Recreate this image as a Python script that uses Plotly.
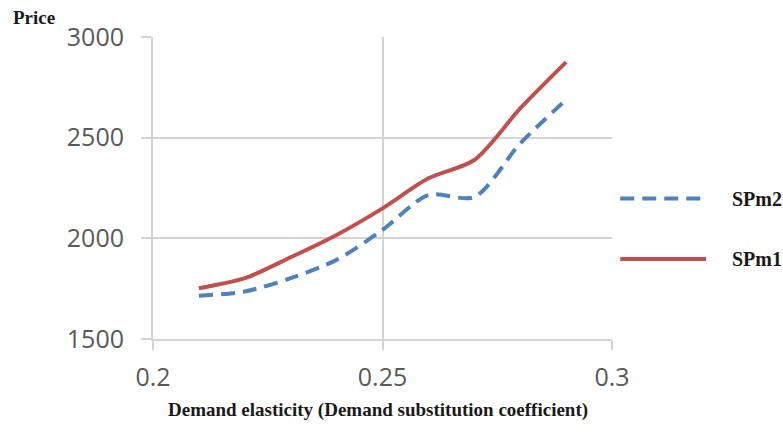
import plotly.graph_objects as go

# Demand elasticity values and the two price series
elasticity = [0.21, 0.22, 0.23, 0.24, 0.25, 0.26, 0.27, 0.28, 0.29]
spm2 = [1715, 1736, 1802, 1893, 2042, 2215, 2205, 2471, 2689]
spm1 = [1752, 1802, 1906, 2017, 2149, 2298, 2389, 2645, 2875]

x_ticks = [0.2, 0.25, 0.3]
x_tick_text = ["0.2", "0.25", "0.3"]
y_ticks = [1500, 2000, 2500, 3000]

BLUE = "#4F81BD"
RED = "#C0504D"
GRID = "#D4D4D4"
TICK_FONT = dict(family="Open Sans", size=25, color="#595959")
SERIF_BOLD = "Liberation Serif"

fig = go.Figure()
fig.add_trace(go.Scatter(
    x=elasticity, y=spm2, mode="lines", name="SPm2",
    line=dict(color=BLUE, width=4, dash="14px,8px", shape="spline", smoothing=0.8),
))
fig.add_trace(go.Scatter(
    x=elasticity, y=spm1, mode="lines", name="SPm1",
    line=dict(color=RED, width=4, shape="spline", smoothing=0.8),
))

fig.update_xaxes(
    range=[0.2, 0.3], tickvals=x_ticks, ticktext=x_tick_text,
    showgrid=True, gridcolor=GRID, gridwidth=2,
    showline=True, linecolor=GRID, linewidth=2,
    ticks="outside", ticklen=9, tickwidth=2, tickcolor=GRID,
    tickfont=TICK_FONT, ticklabelstandoff=6, zeroline=False,
)
fig.update_yaxes(
    range=[1500, 3000], tickvals=y_ticks,
    showgrid=True, gridcolor=GRID, gridwidth=2,
    showline=True, linecolor=GRID, linewidth=2,
    ticks="outside", ticklen=10, tickwidth=2, tickcolor=GRID,
    tickfont=TICK_FONT, ticklabelstandoff=12, zeroline=False,
)

# Axis titles
fig.add_annotation(
    text="<b>Demand elasticity (Demand substitution coefficient)</b>",
    xref="paper", yref="paper", x=0.49, y=-0.235, xanchor="center", yanchor="middle",
    showarrow=False, font=dict(family=SERIF_BOLD, size=19, color="#1a1a1a"),
)
fig.add_annotation(
    text="<b>Price</b>",
    xref="paper", yref="paper", x=-0.309, y=1.063, xanchor="left", yanchor="middle",
    showarrow=False, font=dict(family=SERIF_BOLD, size=19, color="#1a1a1a"),
)

# Legend drawn as line samples with labels to the right of the plot
legend_items = [("SPm2", BLUE, "14px,8px", 0.465), ("SPm1", RED, "solid", 0.265)]
for label, color, dash, ypos in legend_items:
    fig.add_shape(
        type="line", xref="paper", yref="paper",
        x0=1.018, x1=1.205, y0=ypos, y1=ypos,
        line=dict(color=color, width=4, dash=dash),
    )
    fig.add_annotation(
        text=f"<b>{label}</b>", xref="paper", yref="paper",
        x=1.257, y=ypos, xanchor="left", yanchor="middle", showarrow=False,
        font=dict(family=SERIF_BOLD, size=20, color="#1a1a1a"),
    )

fig.update_layout(
    width=783, height=432,
    margin=dict(l=153, r=171, t=37, b=93),
    paper_bgcolor="white", plot_bgcolor="white",
    showlegend=False,
)

fig.write_html("out.html")
